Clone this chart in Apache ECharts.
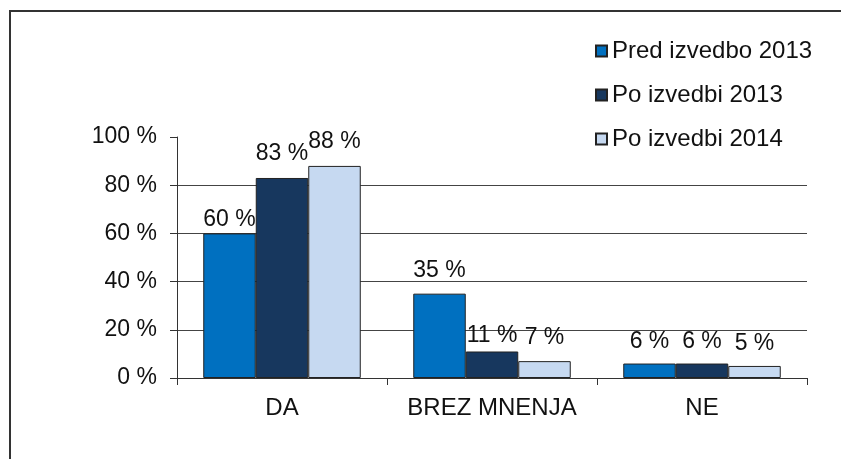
<!DOCTYPE html>
<html>
<head>
<meta charset="utf-8">
<script src="https://cdn.jsdelivr.net/npm/echarts@6/dist/echarts.min.js"></script>
<style>
  html, body { margin: 0; padding: 0; background: #fff; }
  #chart { width: 841px; height: 459px; }
</style>
</head>
<body>
<div id="chart"></div>
<script>
var categories = ['DA', 'BREZ MNENJA', 'NE'];
var seriesNames = ['Pred izvedbo 2013', 'Po izvedbi 2013', 'Po izvedbi 2014'];
var predIzvedbo2013 = [60, 35, 6];
var poIzvedbi2013 = [83, 11, 6];
var poIzvedbi2014 = [88, 7, 5];
var yTicks = [0, 20, 40, 60, 80, 100];

var colors = ['#0070C0', '#17375E', '#C6D9F1'];
var font = 'Liberation Sans, Arial, sans-serif';
// label gap above each bar, one row per series (the original places them unevenly)
var labelGaps = [[2, 11, 10], [13, 4, 10], [13, 12, 11]];

function makeSeries(idx, values) {
  return {
    name: seriesNames[idx],
    type: 'bar',
    barGap: '0%',
    barCategoryGap: '25%',
    itemStyle: { color: colors[idx], borderColor: '#222', borderWidth: 1 },
    label: {
      show: true,
      position: 'top',
      fontFamily: font,
      fontSize: 23,
      color: '#111',
      formatter: '{c} %'
    },
    data: values.map(function (v, i) {
      return { value: v, label: { distance: labelGaps[idx][i] } };
    })
  };
}

var chart = echarts.init(document.getElementById('chart'));
chart.setOption({
  animation: false,
  textStyle: { fontFamily: font },
  graphic: [{
    type: 'polyline',
    shape: { points: [[10, 470], [10, 11], [850, 11]] },
    style: { stroke: '#333', lineWidth: 2, fill: null }
  }],
  legend: {
    orient: 'vertical',
    left: 590,
    top: 34,
    itemWidth: 11,
    itemHeight: 11,
    itemGap: 20,
    textStyle: { fontSize: 24, color: '#111', fontFamily: font },
    data: seriesNames.map(function (n) { return { name: n, icon: 'rect' }; })
  },
  grid: { left: 177, right: 34, top: 137, bottom: 81 },
  xAxis: {
    type: 'category',
    data: categories,
    axisLine: { lineStyle: { color: '#333' } },
    axisTick: { show: true, length: 7, lineStyle: { color: '#333' } },
    axisLabel: { interval: 0, fontSize: 24, color: '#111', margin: 18, fontFamily: font }
  },
  yAxis: {
    type: 'value',
    min: yTicks[0],
    max: yTicks[yTicks.length - 1],
    interval: 20,
    axisLine: { show: true, lineStyle: { color: '#333' } },
    axisTick: { show: true, length: 7, lineStyle: { color: '#333' } },
    axisLabel: { fontSize: 23, color: '#111', margin: 20, fontFamily: font, formatter: '{value} %' },
    splitLine: { show: true, lineStyle: { color: ['#444', '#444', '#444', '#444', '#444', 'rgba(0,0,0,0)'] } }
  },
  series: [
    makeSeries(0, predIzvedbo2013),
    makeSeries(1, poIzvedbi2013),
    makeSeries(2, poIzvedbi2014)
  ]
});
</script>
</body>
</html>
